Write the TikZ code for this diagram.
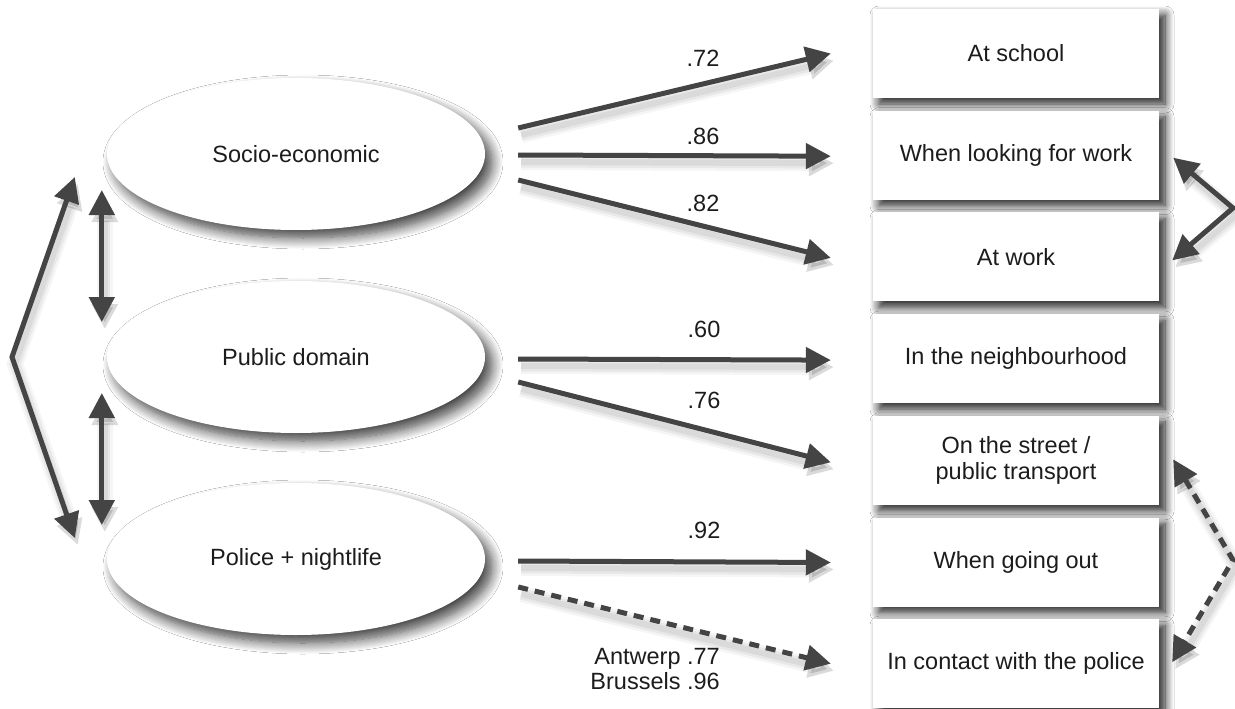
\documentclass[tikz,border=0pt]{standalone}
\usepackage{fontspec}
\setmainfont{Liberation Sans}
\usepackage{xcolor}
\usepackage{tikz}
\usetikzlibrary{arrows.meta}
\usetikzlibrary{shapes.geometric}
\usetikzlibrary{positioning}
\usetikzlibrary{shadows.blur}
\definecolor{arrowgray}{HTML}{444444}
\definecolor{txtgray}{HTML}{1C1C1C}

\begin{document}
\begin{tikzpicture}[
  x=1pt, y=-1pt,
  every node/.style={font=\fontsize{23.5}{25.5}\selectfont, text=txtgray},
  factor/.style={ellipse, fill=white, minimum width=378pt, minimum height=152pt,
    inner sep=0pt, blur shadow={shadow xshift=7pt, shadow yshift=-8pt,
    shadow blur radius=11pt, shadow blur steps=12, shadow opacity=75}},
  item/.style={rectangle, fill=white, minimum width=286pt, minimum height=89pt,
    inner sep=0pt, align=center, blur shadow={shadow xshift=6pt, shadow yshift=-6pt,
    shadow blur radius=9pt, shadow blur steps=12, shadow opacity=90}},
  soft/.style={
    preaction={draw=black, opacity=0.04, line width=16pt, transform canvas={shift={(3pt,-7pt)}}},
    preaction={draw=black, opacity=0.05, line width=11pt, transform canvas={shift={(3pt,-7pt)}}},
    preaction={draw=black, opacity=0.06, line width=6pt, transform canvas={shift={(3pt,-7pt)}}}},
  load/.style={draw=arrowgray, line width=5pt, -{Triangle[length=25pt,width=25pt]}, soft},
  cov/.style={draw=arrowgray, line width=5pt, line join=miter,
    {Triangle[length=25pt,width=25pt]}-{Triangle[length=25pt,width=25pt]}, soft},
  dashline/.style={dash pattern=on 10pt off 7pt},
  coef/.style={inner sep=0pt}
]

\fill [white] (0,0) rectangle (1235,709);
\useasboundingbox (0,0) rectangle (1235,709);

% factors
\node [factor] (se) at (296,154) {Socio-economic};
\node [factor] (pd) at (296,357) {Public domain};
\node [factor] (pn) at (296,559) {Police + nightlife};

% items
\node [item] (school) at (1016,53.5) {At school};
\node [item, below=12.3pt of school] (looking) {When looking for work};
\node [item, below=12.3pt of looking] (work) {At work};
\node [item, below=12.3pt of work] (neigh) {In the neighbourhood};
\node [item, below=12.3pt of neigh] (street) {On the street /\\public transport};
\node [item, below=12.3pt of street] (out) {When going out};
\node [item, below=12.3pt of out] (police) {In contact with the police};

% loadings
\draw [load] ([xshift=33pt,yshift=26pt]se.east) -- ([xshift=-42pt]school.west);
\draw [load] ([xshift=33pt,yshift=-1pt]se.east) -- ([xshift=-42pt,yshift=-1pt]looking.west);
\draw [load] ([xshift=33pt,yshift=-26pt]se.east) -- ([xshift=-42pt,yshift=-1pt]work.west);
\draw [load] ([xshift=33pt,yshift=-2pt]pd.east) -- ([xshift=-42pt,yshift=-1.5pt]neigh.west);
\draw [load] ([xshift=33pt,yshift=-25pt]pd.east) -- ([xshift=-42pt,yshift=-2pt]street.west);
\draw [load] ([xshift=33pt,yshift=-2pt]pn.east) -- ([xshift=-42pt,yshift=-0.5pt]out.west);
\draw [load, dashline] ([xshift=33pt,yshift=-28pt]pn.east) -- ([xshift=-42pt]police.west);

\node [coef] (l1) at (703,58) {.72};
\node [coef] (l2) at (703,136) {.86};
\node [coef] (l3) at (703,203) {.82};
\node [coef] (l4) at (704,329) {.60};
\node [coef] (l5) at (704,400) {.76};
\node [coef] (l6) at (704,530) {.92};
\node [coef, align=right, anchor=east] (l7) at (720,669) {Antwerp .77\\Brussels .96};

% correlations
\coordinate (vl) at (12,357);
\coordinate (vr) at (1233,208);
\coordinate (vd) at (1233,560);

\draw [cov] ([xshift=-5pt,yshift=-36pt]se.west) -- ([xshift=-5pt,yshift=35pt]pd.west);
\draw [cov] ([xshift=-5pt,yshift=-36pt]pd.west) -- ([xshift=-5pt,yshift=34pt]pn.west);
\draw [cov] ([xshift=-32pt,yshift=-23pt]se.west) -- (vl) -- ([xshift=-32pt,yshift=21pt]pn.west);
\draw [cov] ([xshift=14pt,yshift=-2.5pt]looking.east) -- (vr) -- ([xshift=13pt,yshift=-3.5pt]work.east);
\draw [cov, dashline] ([xshift=14pt,yshift=1pt]street.east) -- (vd) -- ([xshift=13pt,yshift=1.5pt]police.east);

\end{tikzpicture}
\end{document}
